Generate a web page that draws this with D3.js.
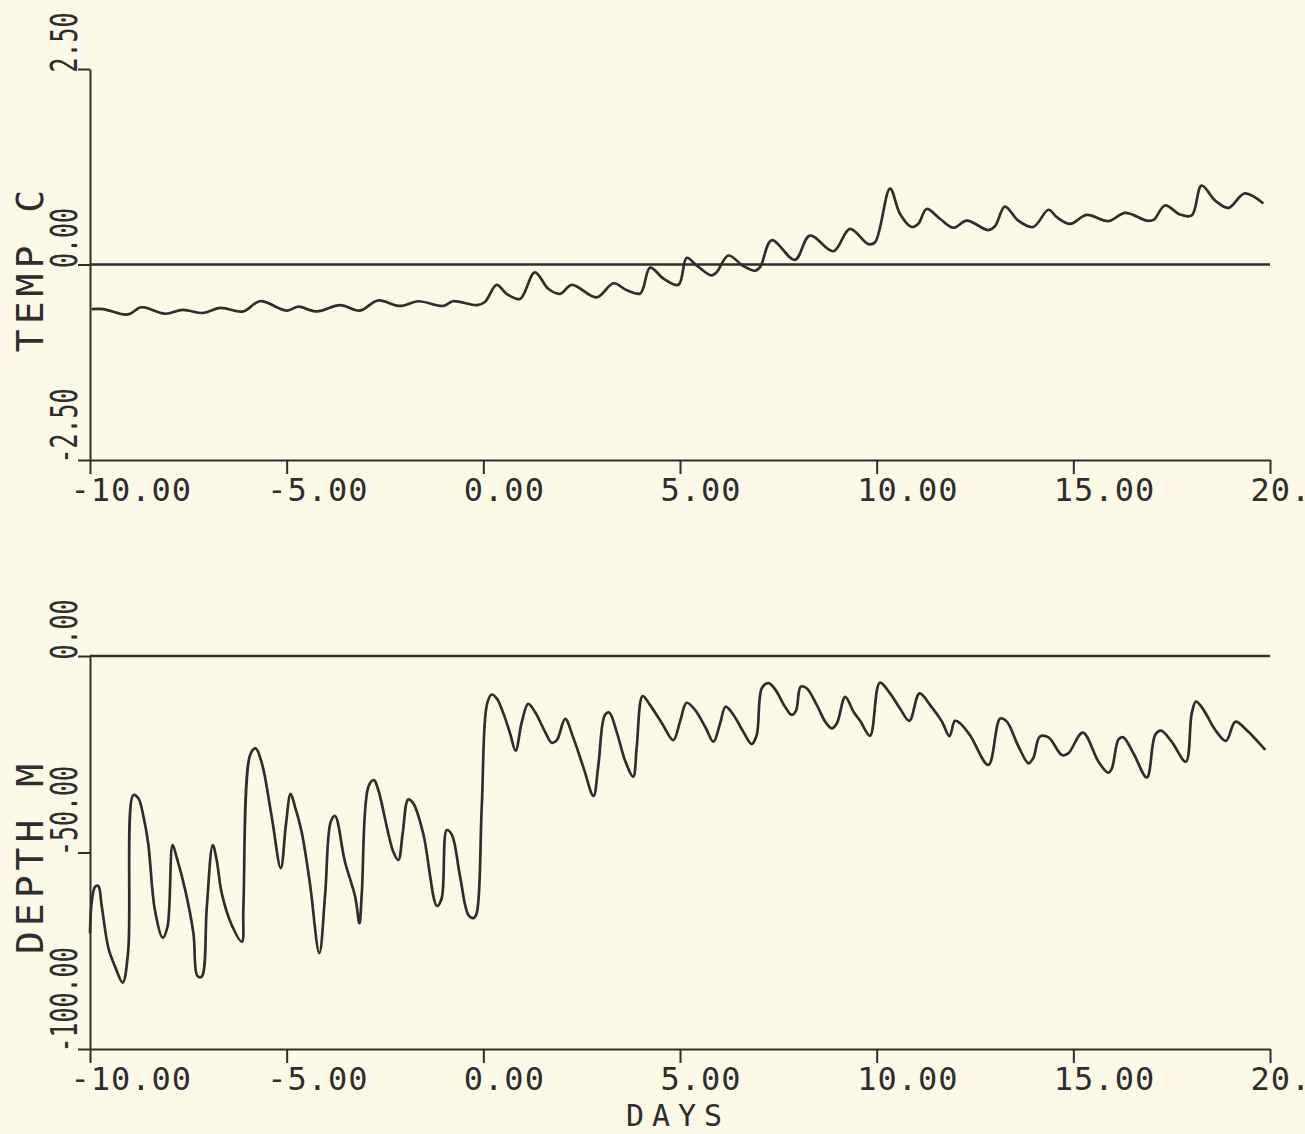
<!DOCTYPE html>
<html>
<head>
<meta charset="utf-8">
<script src="https://cdn.jsdelivr.net/npm/d3@7"></script>
<style>
  html, body { margin: 0; padding: 0; background: #fcfae7; }
  svg { display: block; }
  text { font-family: "DejaVu Sans Mono", monospace; fill: #2e2e2e; }
</style>
</head>
<body>
<svg id="chart" width="1305" height="1134"></svg>
<script>
// ---- data ----
const xTicks = [-10, -5, 0, 5, 10, 15, 20];
const tempTicks = [-2.5, 0, 2.5];
const depthTicks = [-100, -50, 0];
const xTitle = "DAYS";
const tempTitle = "TEMP C";
const depthTitle = "DEPTH M";

const tempDays = [-9.96,-9.67,-9.11,-8.98,-8.73,-8.60,-8.09,-7.64,-7.13,-6.69,-6.11,-5.68,-4.99,-4.71,-4.23,-3.64,-3.14,-2.68,-2.12,-1.66,-1.02,-0.77,-0.16,0.04,0.34,0.59,0.93,1.31,1.65,1.95,2.25,2.88,3.31,3.65,3.99,4.24,4.58,4.96,5.17,5.42,5.80,5.93,6.23,6.61,6.91,7.04,7.33,7.92,8.30,8.90,9.32,9.79,9.96,10.34,10.59,10.89,11.06,11.27,11.61,11.95,12.29,12.84,13.01,13.26,13.60,13.98,14.37,14.58,14.92,15.34,15.89,16.32,16.87,17.04,17.33,17.71,18.01,18.26,18.60,18.94,19.36,19.83];
const tempValues = [-0.57,-0.57,-0.64,-0.63,-0.55,-0.55,-0.63,-0.58,-0.62,-0.555,-0.60,-0.47,-0.59,-0.54,-0.60,-0.52,-0.59,-0.46,-0.53,-0.47,-0.53,-0.47,-0.52,-0.48,-0.26,-0.375,-0.44,-0.10,-0.31,-0.375,-0.26,-0.42,-0.24,-0.33,-0.37,-0.04,-0.18,-0.26,0.085,-0.01,-0.14,-0.10,0.115,-0.02,-0.08,-0.03,0.31,0.06,0.37,0.17,0.456,0.26,0.285,0.97,0.65,0.48,0.52,0.71,0.585,0.47,0.56,0.44,0.49,0.74,0.56,0.48,0.70,0.605,0.52,0.635,0.555,0.66,0.56,0.57,0.755,0.64,0.627,1.01,0.82,0.725,0.91,0.78];

const depthDays = [-10.0,-9.96,-9.87,-9.79,-9.70,-9.53,-9.36,-9.17,-9.03,-8.90,-8.77,-8.64,-8.52,-8.35,-8.15,-8.03,-7.90,-7.80,-7.58,-7.37,-7.27,-7.16,-7.03,-6.88,-6.78,-6.65,-6.40,-6.14,-6.10,-5.93,-5.79,-5.63,-5.38,-5.15,-5.02,-4.90,-4.79,-4.62,-4.41,-4.17,-4.02,-3.88,-3.77,-3.52,-3.26,-3.15,-3.09,-2.92,-2.78,-2.67,-2.29,-2.16,-2.05,-1.91,-1.78,-1.53,-1.18,-1.06,-0.93,-0.80,-0.59,-0.38,-0.25,-0.17,-0.04,0.09,0.21,0.34,0.51,0.68,0.82,0.98,1.14,1.31,1.57,1.74,1.87,2.08,2.29,2.54,2.80,2.92,3.09,3.20,3.39,3.60,3.81,3.90,4.05,4.24,4.54,4.83,5.00,5.17,5.38,5.64,5.85,6.02,6.16,6.36,6.61,6.82,6.95,7.08,7.25,7.42,7.67,7.84,7.95,8.07,8.22,8.48,8.69,8.86,8.99,9.20,9.41,9.58,9.83,10.08,10.34,10.59,10.83,11.09,11.36,11.66,11.85,11.99,12.12,12.37,12.84,13.14,13.31,13.60,13.86,13.98,14.15,14.37,14.71,14.87,15.24,15.64,15.89,15.98,16.15,16.27,16.53,16.87,17.08,17.23,17.50,17.86,18.01,18.12,18.31,18.60,18.88,19.12,19.39,19.88];
const depthValues = [-70.6,-62.9,-58.7,-58.5,-63.8,-74.4,-79.1,-83.1,-75.2,-35.4,-36.2,-40.9,-47.7,-64.6,-71.7,-68.9,-48.1,-51.1,-59.5,-70.6,-81.4,-81.6,-63.8,-48.1,-51.9,-60.4,-68.4,-72.7,-63.8,-25.2,-23.5,-27.3,-40.9,-54.0,-43.0,-35.1,-38.3,-44.7,-57.8,-75.6,-60.4,-42.2,-40.7,-52.3,-61.2,-68.0,-60.4,-33.2,-31.6,-34.1,-49.8,-51.9,-45.1,-36.5,-37.5,-45.1,-63.6,-61.7,-44.3,-45.5,-56.2,-65.9,-66.7,-65.5,-38.3,-12.4,-9.8,-10.8,-14.6,-19.7,-24.1,-16.7,-12.2,-14.2,-19.3,-22.1,-21.4,-16.0,-20.9,-28.2,-35.6,-28.2,-15.0,-14.4,-19.3,-26.5,-30.7,-23.1,-10.2,-12.5,-17.1,-21.4,-16.7,-11.9,-13.7,-18.0,-21.8,-17.1,-12.9,-15.0,-19.3,-22.4,-20.1,-8.2,-6.9,-8.5,-12.9,-15.0,-13.9,-7.8,-8.2,-12.5,-16.7,-18.4,-17.1,-10.4,-14.2,-16.5,-20.3,-6.8,-9.5,-13.3,-16.5,-9.5,-12.5,-16.7,-20.4,-16.5,-17.1,-20.1,-27.7,-15.9,-16.7,-22.9,-27.3,-26.0,-20.5,-20.7,-25.2,-24.8,-19.5,-26.9,-29.7,-28.6,-21.2,-20.7,-24.8,-30.9,-20.1,-19.0,-21.8,-26.9,-14.6,-11.6,-13.7,-18.7,-21.6,-16.7,-18.7,-23.9];

// ---- layout ----
const svg = d3.select("#chart");
const ink = "#2e2e2e";
const x = d3.scaleLinear().domain([-10, 20]).range([90, 1270]);
const yT = d3.scaleLinear().domain([-2.5, 2.5]).range([460, 69]);
const yD = d3.scaleLinear().domain([-100, 0]).range([1049, 656]);
const fmt0 = d3.format(".2f");
const fmt = d => fmt0(d).replace("\u2212", "-");

function panel(y, yTicks, title, dayArr, valArr) {
  const g = svg.append("g");
  const y0 = y.range()[0];
  // x axis
  const xa = g.append("g").attr("transform", `translate(0,${y0})`)
    .call(d3.axisBottom(x).tickValues(xTicks).tickSize(14).tickSizeOuter(0).tickFormat(fmt));
  xa.selectAll("text")
    .attr("text-anchor", "start").attr("x", -20).attr("y", 41).attr("dy", 0)
    .style("font-size", "32px").style("letter-spacing", "1px");
  // y axis
  const ya = g.append("g").attr("transform", `translate(${x.range()[0]},0)`)
    .call(d3.axisLeft(y).tickValues(yTicks).tickSize(12).tickSizeOuter(0).tickFormat(fmt));
  ya.selectAll("text")
    .attr("x", 0).attr("y", 0).attr("dy", 0)
    .attr("text-anchor", "start")
    .attr("transform", "translate(-13,3) rotate(-90) scale(0.78,1.18)")
    .style("font-size", "32px").style("letter-spacing", "0px");
  g.selectAll(".domain, .tick line").attr("stroke", ink).attr("stroke-width", 2);
  g.selectAll(".tick text").attr("fill", ink);
  // zero line
  g.append("line")
    .attr("x1", x.range()[0]).attr("x2", x.range()[1])
    .attr("y1", y(0)).attr("y2", y(0))
    .attr("stroke", ink).attr("stroke-width", 2.5);
  // title
  const ym = (y.range()[0] + y.range()[1]) / 2 + 4;
  g.append("text")
    .attr("transform", `translate(43,${ym}) rotate(-90)`)
    .attr("text-anchor", "middle")
    .style("font-size", "38px").style("letter-spacing", "5px")
    .text(title);
  // data line
  const pts = dayArr.map((d, i) => [d, valArr[i]]);
  g.append("path")
    .datum(pts)
    .attr("fill", "none").attr("stroke", ink).attr("stroke-width", 2.7)
    .attr("stroke-linejoin", "round")
    .attr("d", d3.line().x(d => x(d[0])).y(d => y(d[1])).curve(d3.curveCatmullRom.alpha(0.5)));
}

panel(yT, tempTicks, tempTitle, tempDays, tempValues);
panel(yD, depthTicks, depthTitle, depthDays, depthValues);

svg.append("text")
  .attr("x", 678).attr("y", 1126)
  .attr("text-anchor", "middle")
  .style("font-size", "30px").style("letter-spacing", "8px")
  .text(xTitle);
</script>
</body>
</html>
